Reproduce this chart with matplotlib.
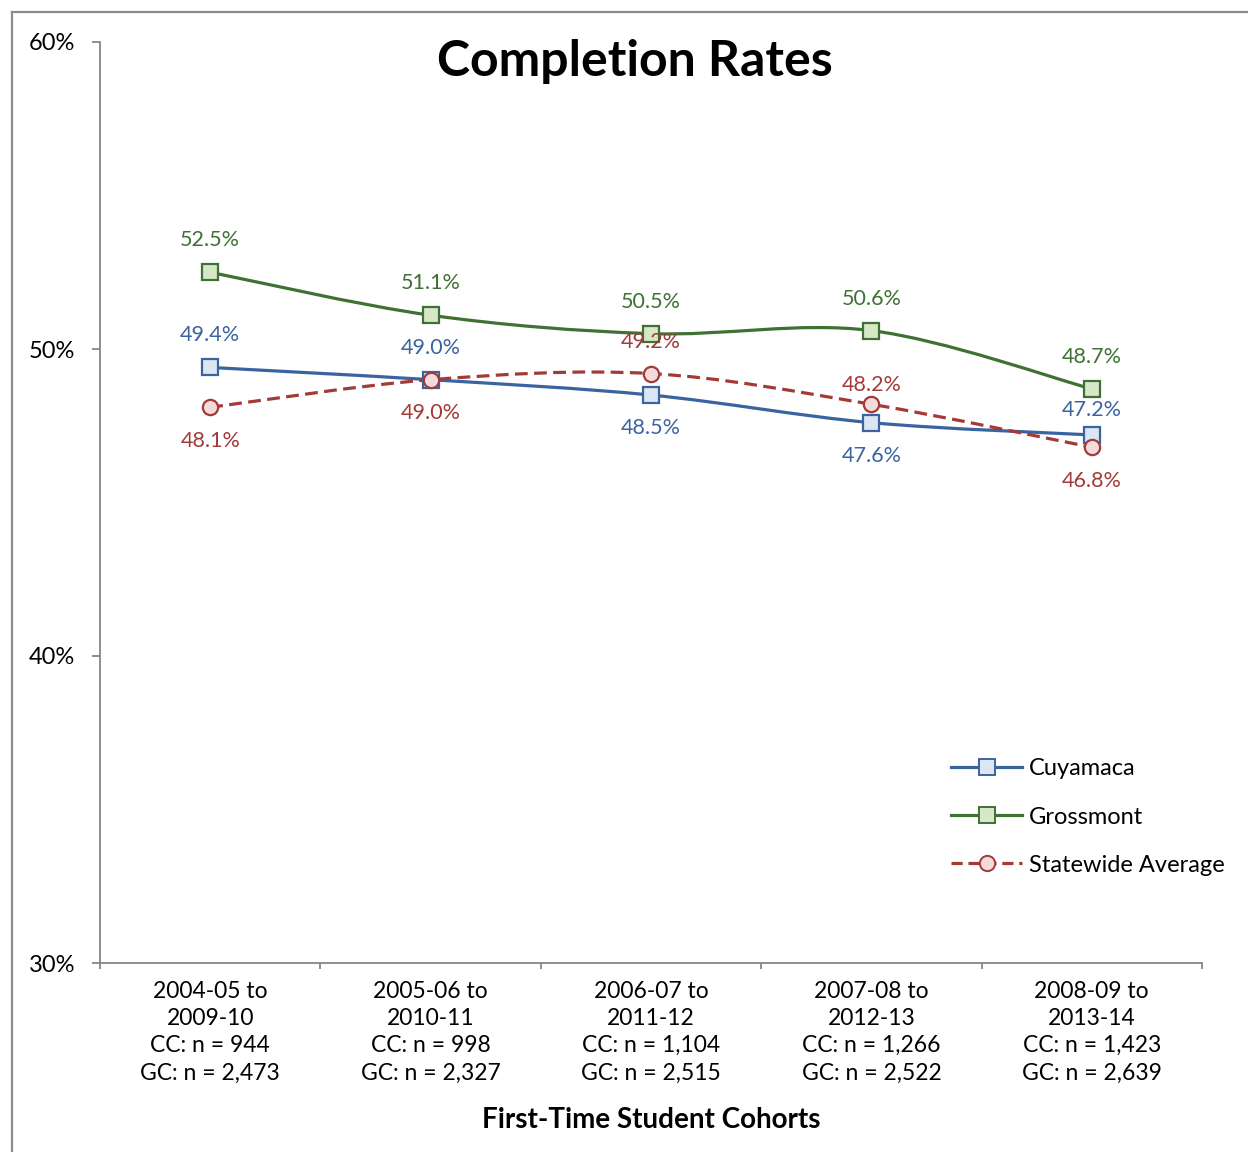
import matplotlib.pyplot as plt
import numpy as np
from matplotlib.path import Path
from matplotlib.patches import PathPatch
from matplotlib.lines import Line2D

plt.rcParams['font.family'] = ['Lato', 'DejaVu Sans']

# cohort labels (x axis)
cohorts = [
    '2004-05 to\n2009-10\nCC: n = 944\nGC: n = 2,473',
    '2005-06 to\n2010-11\nCC: n = 998\nGC: n = 2,327',
    '2006-07 to\n2011-12\nCC: n = 1,104\nGC: n = 2,515',
    '2007-08 to\n2012-13\nCC: n = 1,266\nGC: n = 2,522',
    '2008-09 to\n2013-14\nCC: n = 1,423\nGC: n = 2,639',
]

# completion rates (%)
cuyamaca = [49.4, 49.0, 48.5, 47.6, 47.2]
grossmont = [52.5, 51.1, 50.5, 50.6, 48.7]
statewide = [48.1, 49.0, 49.2, 48.2, 46.8]

BLUE = '#3a64a0'
GREEN = '#3e7133'
RED = '#a23a38'


def smooth_path(xs, ys):
    # bezier segments like excel's "smoothed line"
    pts = np.column_stack([xs, ys]).astype(float)
    n = len(pts)
    verts = [pts[0]]
    codes = [Path.MOVETO]
    for i in range(n - 1):
        p0 = pts[max(i - 1, 0)]
        p1 = pts[i]
        p2 = pts[i + 1]
        p3 = pts[min(i + 2, n - 1)]
        verts += [p1 + (p2 - p0) / 6, p2 - (p3 - p1) / 6, p2]
        codes += [Path.CURVE4] * 3
    return Path(verts, codes)


fig = plt.figure(figsize=(12.48, 11.52), dpi=100)
ax = fig.add_axes([100 / 1248, 1 - 963 / 1152, 1102 / 1248, 921 / 1152])

x = np.arange(len(cohorts))

# label offsets in points (+ above, - below)
series = [
    ('Cuyamaca', cuyamaca, BLUE, '#dce6f2', 's', '-', [23, 23, -24, -24, 18]),
    ('Grossmont', grossmont, GREEN, '#d7e8c8', 's', '-', [23, 23, 23, 23, 23]),
    ('Statewide Average', statewide, RED, '#f2dcdb', 'o', '--', [-24, -24, 23, 14, -24]),
]

handles = []
for name, vals, col, face, mk, ls, offs in series:
    patch = PathPatch(smooth_path(x, vals), facecolor='none', edgecolor=col,
                      lw=2.3, zorder=2, capstyle='butt')
    if ls == '--':
        patch.set_linestyle((0, (4, 2)))
    ax.add_patch(patch)
    ax.plot(x, vals, ls='none', marker=mk, ms=11, mfc=face, mec=col,
            mew=1.6, zorder=3)
    for xi, v, o in zip(x, vals, offs):
        ax.annotate(f'{v:.1f}%', (xi, v), xytext=(0, o),
                    textcoords='offset points', ha='center', va='center',
                    fontsize=15.5, color=col)
    h = Line2D([], [], color=col, lw=2.3, marker=mk, ms=11, mfc=face,
               mec=col, mew=1.4)
    if ls == '--':
        h.set_dashes((3.5, 1.8))
    handles.append(h)

ax.set_xlim(-0.5, len(cohorts) - 0.5)
ax.set_ylim(30, 60)
ax.set_yticks([30, 40, 50, 60])
ax.set_yticklabels([f'{t}%' for t in [30, 40, 50, 60]])
ax.set_xticks(x)
ax.set_xticklabels(cohorts, fontsize=16.5, linespacing=1.36)
ax.set_xticks(np.arange(len(cohorts) + 1) - 0.5, minor=True)
ax.tick_params(axis='x', which='major', length=0, pad=13)
ax.tick_params(axis='x', which='minor', length=4.5, color='#868686', width=1.3)
ax.tick_params(axis='y', length=6, color='#868686', width=1.3, labelsize=17, pad=12)

for sp in ['top', 'right']:
    ax.spines[sp].set_visible(False)
for sp in ['left', 'bottom']:
    ax.spines[sp].set_color('#868686')
    ax.spines[sp].set_linewidth(1.3)

fig.text(651 / 1248, 1 - 1120 / 1152, 'First-Time Student Cohorts', ha='center',
         va='center', fontsize=20, fontweight='bold')

fig.text(635 / 1248, 1 - 62 / 1152, 'Completion Rates', ha='center', va='center',
         fontsize=36, fontweight='bold')

ax.legend(handles, [s[0] for s in series], loc='center left',
          bbox_to_anchor=(930 / 1248, 1 - 817 / 1152), bbox_transform=fig.transFigure,
          frameon=False, fontsize=17, handlelength=3.0, labelspacing=1.15,
          handletextpad=0.3)

# chart border (top and left visible)
fig.add_artist(Line2D([12 / 1248, 12 / 1248], [0, 1 - 12 / 1152], color='#8c8c8c', lw=1.6))
fig.add_artist(Line2D([12 / 1248, 1], [1 - 12 / 1152, 1 - 12 / 1152], color='#8c8c8c', lw=1.6))

fig.savefig('out.png', dpi=100)
